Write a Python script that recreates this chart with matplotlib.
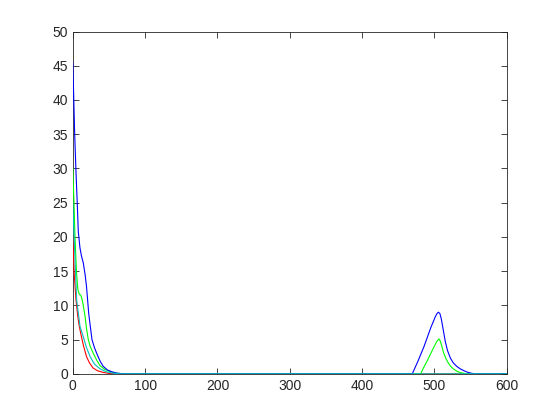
import matplotlib
matplotlib.use("Agg")
import matplotlib.pyplot as plt

# valores
red_x = [0, 2, 4.4, 7, 9, 12, 15, 19, 23, 28, 34, 42, 50, 60, 600]
red_y = [20, 14.5, 10.8, 8.3, 6.9, 5.4, 4.0, 2.5, 1.6, 0.85, 0.45, 0.2, 0.06, 0, 0]

cyan_x = [0, 1.8, 5.3, 10, 14.5, 19, 24, 30, 38, 46, 55, 65, 600]
cyan_y = [25, 20, 10.8, 6.9, 5.4, 3.8, 2.5, 1.4, 0.7, 0.3, 0.1, 0, 0]

green_x = [0, 1.7, 3, 5, 7, 9, 11, 12.5, 14.5, 16.8, 19, 21.4, 24, 28.3, 33, 37.6,
           44, 51.4, 58, 65, 72,
           480.9, 485, 490.5, 495, 499.7, 503, 506.3, 508, 510, 512.5, 515.5, 519,
           522.4, 527, 531.6, 536, 541, 546, 600]
green_y = [30, 24.7, 20, 15, 12.3, 11.6, 11.5, 11, 10, 8.5, 6.6, 5.0, 4.0, 3.0, 2.0, 1.2,
           0.65, 0.34, 0.12, 0.03, 0,
           0, 0.9, 2.0, 3.0, 4.0, 4.7, 5.1, 4.8, 4.1, 3.1, 2.3, 1.6,
           1.07, 0.65, 0.34, 0.17, 0.06, 0, 0]

blue_x = [0, 2.6, 4.4, 6.2, 7.6, 9.9, 12, 14.5, 17, 19, 22, 26.5, 30, 33, 38, 42,
          48, 54, 60, 66, 75,
          469.3, 477, 485.6, 494.8, 501, 503.5, 505.4, 507.5, 509.5, 512, 515, 518,
          522, 526, 531, 536, 541, 546, 551, 556, 600]
blue_y = [45.5, 35, 29.5, 24.8, 20.8, 18.4, 17.2, 16.2, 14.5, 12.7, 8.8, 5.0, 3.8, 3.0, 1.8, 1.1,
          0.55, 0.3, 0.12, 0.04, 0,
          0, 1.8, 4.0, 6.7, 8.3, 8.8, 9.0, 8.8, 8.0, 6.5, 4.7, 3.4,
          2.3, 1.6, 1.07, 0.7, 0.44, 0.22, 0.08, 0, 0]

plt.rcParams['font.family'] = ['Liberation Sans', 'DejaVu Sans']
gris = (0.15, 0.15, 0.15)

fig = plt.figure(figsize=(5.6, 4.2), dpi=100)
ax = fig.add_axes([0.13, 0.11, 0.775, 0.815])

ax.plot(red_x, red_y, color='r', lw=0.8, zorder=3)
ax.plot(green_x, green_y, color='#00ff00', lw=0.8, zorder=3)
ax.plot(blue_x, blue_y, color='b', lw=0.8, zorder=3)
ax.plot(cyan_x, cyan_y, color='c', lw=0.8, zorder=3)

ax.set_xlim(0, 600)
ax.set_ylim(0, 50)
ax.set_xticks(range(0, 601, 100))
ax.set_yticks(range(0, 51, 5))
ax.tick_params(direction='in', top=True, right=True, length=4, width=0.6,
               colors=gris, labelsize=10)
for s in ax.spines.values():
    s.set_color(gris)
    s.set_linewidth(0.6)

fig.savefig("out.png", dpi=100)
